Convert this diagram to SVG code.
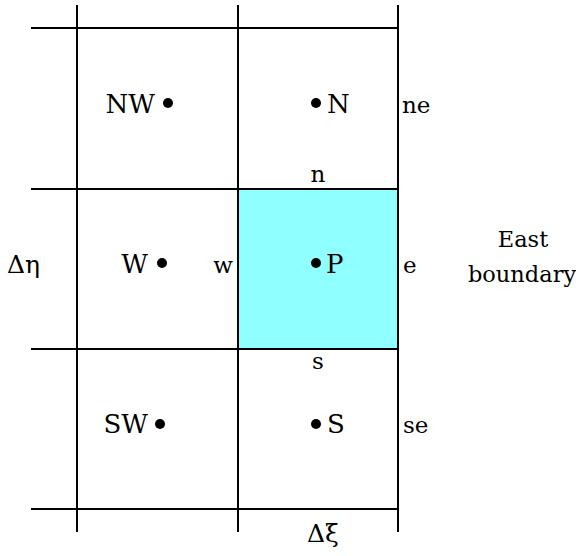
<svg xmlns="http://www.w3.org/2000/svg" width="576" height="556" viewBox="0 0 576 556">
<style>
.ln{stroke:#000;stroke-width:2;fill:none}
.t{font-family:'DejaVu Serif',serif;font-size:25px;fill:#000}
.lc{font-size:23px}
.eb{font-size:22.5px}
.dot{fill:#000}
</style>
<rect width="576" height="556" fill="#fff"/>
<g id="cellP"><rect x="238" y="189" width="160" height="160" fill="#8fffff"/></g>
<g id="grid">
<line class="ln" x1="31" y1="28" x2="399" y2="28"/>
<line class="ln" x1="31" y1="189" x2="399" y2="189"/>
<line class="ln" x1="31" y1="349" x2="399" y2="349"/>
<line class="ln" x1="31" y1="509" x2="399" y2="509"/>
<line class="ln" x1="77" y1="5" x2="77" y2="532"/>
<line class="ln" x1="238" y1="5" x2="238" y2="532"/>
<line class="ln" x1="398" y1="5" x2="398" y2="532"/>
</g>
<g class="t">
<g id="NW"><circle class="dot" cx="168" cy="103" r="5"/><text x="155" y="113" text-anchor="end" font-size="26">NW</text></g>
<g id="N"><circle class="dot" cx="316" cy="103" r="5"/><text x="327" y="113" font-size="26">N</text></g>
<g id="W"><circle class="dot" cx="162" cy="263" r="5"/><text x="148" y="273" text-anchor="end" font-size="26">W</text></g>
<g id="P"><circle class="dot" cx="316" cy="263" r="5"/><text x="326" y="273" font-size="26">P</text></g>
<g id="SW"><circle class="dot" cx="160" cy="424" r="5"/><text x="148" y="433" text-anchor="end" font-size="26">SW</text></g>
<g id="S"><circle class="dot" cx="316" cy="424" r="5"/><text x="327" y="433" font-size="26">S</text></g>
<g id="labels">
<text class="lc" x="402" y="113">ne</text>
<text class="lc" x="318" y="182" text-anchor="middle">n</text>
<text class="lc" x="233" y="273" text-anchor="end">w</text>
<text class="lc" x="403" y="273">e</text>
<text class="lc" x="318" y="369" text-anchor="middle">s</text>
<text class="lc" x="403" y="433">se</text>
<text x="7" y="273">Δη</text>
<text x="307" y="542">Δξ</text>
<text class="eb" x="523" y="247" text-anchor="middle">East</text>
<text class="eb" x="522" y="282" text-anchor="middle">boundary</text>
</g>
</g>
</svg>
